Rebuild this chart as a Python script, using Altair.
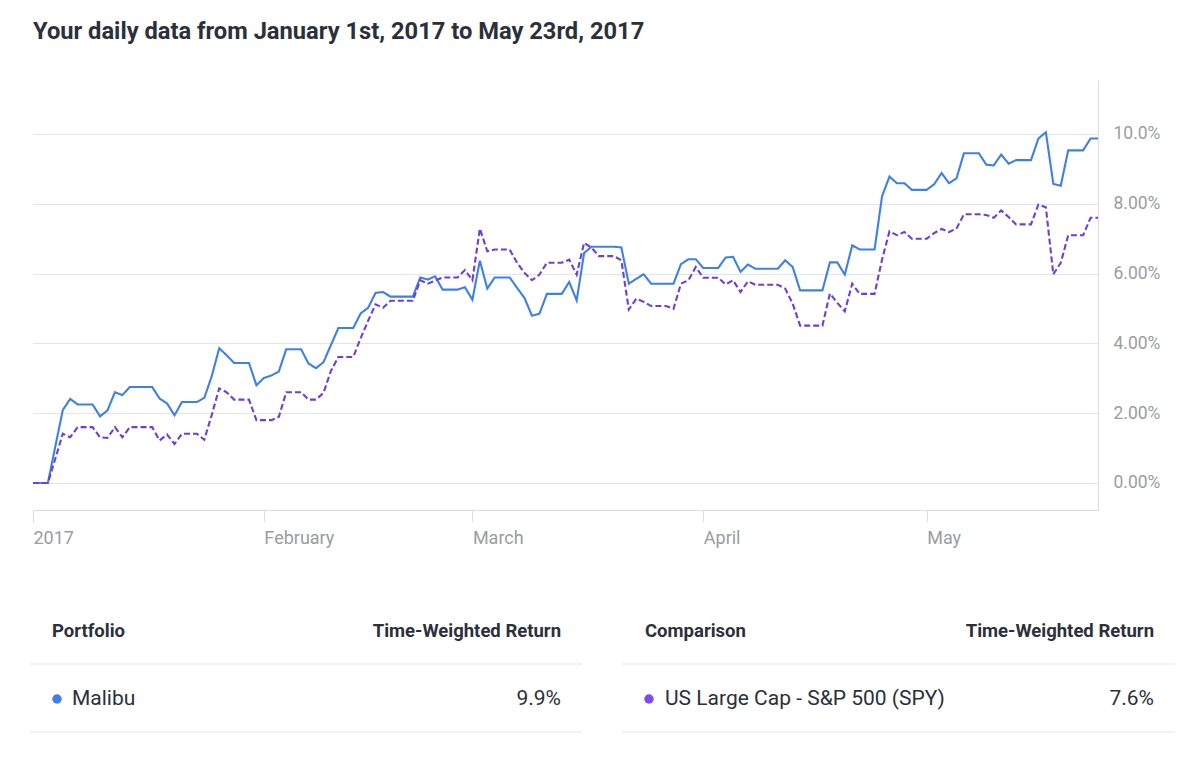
import altair as alt
import pandas as pd

# ---------------- data ----------------
title_text = "Your daily data from January 1st, 2017 to May 23rd, 2017"
series_names = ["Malibu", "US Large Cap - S&P 500 (SPY)"]
series_returns = ["9.9%", "7.6%"]
table_headers_left = ["Portfolio", "Time-Weighted Return"]
table_headers_right = ["Comparison", "Time-Weighted Return"]

dates = [d.strftime("%Y-%m-%d") for d in pd.date_range("2017-01-01", "2017-05-24", freq="D")]

malibu = [
    0, 0, 0, 1.05, 2.09, 2.41, 2.25, 2.25, 2.25, 1.91,
    2.08, 2.6, 2.52, 2.75, 2.75, 2.75, 2.75, 2.42, 2.28, 1.94,
    2.32, 2.32, 2.32, 2.44, 3.06, 3.86, 3.66, 3.44, 3.44, 3.44,
    2.8, 3.01, 3.08, 3.19, 3.83, 3.83, 3.83, 3.42, 3.29, 3.46,
    3.95, 4.44, 4.44, 4.44, 4.86, 5.02, 5.45, 5.47, 5.34, 5.34,
    5.34, 5.34, 5.89, 5.83, 5.92, 5.54, 5.54, 5.54, 5.61, 5.25,
    6.37, 5.57, 5.89, 5.89, 5.89, 5.59, 5.3, 4.79, 4.85, 5.42,
    5.42, 5.42, 5.76, 5.23, 6.59, 6.77, 6.77, 6.77, 6.77, 6.75,
    5.71, 5.85, 5.98, 5.71, 5.71, 5.71, 5.71, 6.27, 6.41, 6.41,
    6.16, 6.16, 6.16, 6.46, 6.48, 6.05, 6.26, 6.14, 6.14, 6.14,
    6.14, 6.38, 6.19, 5.52, 5.52, 5.52, 5.52, 6.32, 6.32, 5.97,
    6.81, 6.69, 6.69, 6.69, 8.21, 8.78, 8.59, 8.59, 8.4, 8.4,
    8.4, 8.56, 8.88, 8.59, 8.73, 9.45, 9.45, 9.45, 9.12, 9.1,
    9.41, 9.15, 9.25, 9.25, 9.25, 9.87, 10.05, 8.57, 8.52, 9.53,
    9.53, 9.53, 9.87, 9.87,
]

spy = [
    0, 0, 0, 0.7, 1.41, 1.31, 1.6, 1.6, 1.6, 1.31,
    1.29, 1.6, 1.31, 1.6, 1.6, 1.6, 1.6, 1.22, 1.39, 1.12,
    1.41, 1.41, 1.41, 1.24, 1.95, 2.71, 2.6, 2.39, 2.39, 2.39,
    1.8, 1.8, 1.8, 1.89, 2.6, 2.6, 2.6, 2.39, 2.39, 2.58,
    3.21, 3.61, 3.61, 3.61, 4.15, 4.65, 5.12, 5.02, 5.22, 5.22,
    5.22, 5.22, 5.81, 5.71, 5.8, 5.89, 5.89, 5.89, 6.1, 5.81,
    7.29, 6.64, 6.69, 6.69, 6.69, 6.31, 6.02, 5.81, 5.97, 6.31,
    6.31, 6.31, 6.4, 5.97, 6.88, 6.74, 6.5, 6.5, 6.5, 6.38,
    4.97, 5.28, 5.19, 5.07, 5.07, 5.07, 4.99, 5.71, 5.81, 6.19,
    5.88, 5.88, 5.88, 5.69, 5.81, 5.47, 5.78, 5.68, 5.68, 5.68,
    5.68, 5.57, 5.14, 4.51, 4.51, 4.51, 4.51, 5.43, 5.16, 4.92,
    5.71, 5.42, 5.42, 5.42, 6.4, 7.21, 7.1, 7.19, 7.0, 7.0,
    7.0, 7.16, 7.28, 7.19, 7.29, 7.7, 7.7, 7.7, 7.68, 7.6,
    7.81, 7.62, 7.41, 7.41, 7.41, 7.98, 7.9, 5.98, 6.31, 7.1,
    7.1, 7.1, 7.6, 7.6,
]

# ---------------- styles ----------------
BLUE = "#3d80ea"
PURPLE = "#6a3fe0"
DOT_PURPLE = "#7a4cf2"
GRID = "#e1e5eb"
AXIS_TXT = "#9a9da3"
DARK = "#2b303a"
SEP = "#eceef2"
FONT = "Roboto"

W, H = 1065, 430

df = pd.DataFrame({
    "date": dates * 2,
    "value": malibu + spy,
    "series": [series_names[0]] * len(dates) + [series_names[1]] * len(dates),
})

one = pd.DataFrame({"k": [0]})

month_ticks = [alt.DateTime(year=2017, month=m, date=1, utc=True) for m in range(1, 6)]

lines = alt.Chart(df).mark_line(strokeWidth=2.1).encode(
    x=alt.X(
        "date:T",
        title=None,
        scale=alt.Scale(
            type="utc",
            domain=[alt.DateTime(year=2017, month=1, date=1, utc=True),
                    alt.DateTime(year=2017, month=5, date=24, utc=True)],
            nice=False,
        ),
        axis=alt.Axis(
            values=month_ticks,
            labelExpr="utcmonth(datum.value)==0 ? utcFormat(datum.value,'%Y') : utcFormat(datum.value,'%B')",
            grid=False,
            domainColor="#d9dee6",
            tickColor="#d9dee6",
            tickSize=12,
            labelAlign="left",
            labelBaseline="top",
            labelPadding=7,
            labelColor=AXIS_TXT,
            labelFontSize=18,
            labelFont=FONT,
        ),
    ),
    y=alt.Y(
        "value:Q",
        title=None,
        scale=alt.Scale(domain=[-0.774, 11.547], nice=False, zero=False),
        axis=alt.Axis(
            orient="right",
            values=[0, 2, 4, 6, 8, 10],
            labelExpr="datum.value >= 10 ? format(datum.value, '.1f') + '%' : format(datum.value, '.2f') + '%'",
            ticks=False,
            labelPadding=15,
            domainColor="#d9dee6",
            gridColor=GRID,
            labelColor=AXIS_TXT,
            labelFontSize=17.5,
            labelFont=FONT,
            labelAlign="left",
        ),
    ),
    color=alt.Color("series:N", scale=alt.Scale(domain=series_names, range=[BLUE, PURPLE]), legend=None),
    strokeDash=alt.StrokeDash("series:N", scale=alt.Scale(domain=series_names, range=[[1, 0], [6, 3]]), legend=None),
    order=alt.Order("date:T"),
)

def text_layer(txt, x, y, size, weight="normal", align="left", color=DARK):
    return alt.Chart(one).mark_text(
        text=txt, align=align, baseline="middle", fontSize=size,
        fontWeight=weight, font=FONT, color=color,
    ).encode(x=alt.value(x), y=alt.value(y))

def hline(x1, x2, y):
    return alt.Chart(one).mark_rule(color=SEP, strokeWidth=1.5).encode(
        x=alt.value(x1), x2=alt.value(x2), y=alt.value(y)
    )

def dot(x, y, c):
    return alt.Chart(one).mark_circle(size=90, opacity=1, color=c).encode(
        x=alt.value(x), y=alt.value(y)
    )

layers = [
    lines,
    text_layer(title_text, 0, -48, 23.7, "bold"),
    # left table
    text_layer(table_headers_left[0], 19, 551, 18.5, "bold"),
    text_layer(table_headers_left[1], 528, 551, 18.5, "bold", "right"),
    hline(-3, 549, 584),
    dot(24, 619, BLUE),
    text_layer(series_names[0], 39, 619, 21),
    text_layer(series_returns[0], 528, 619, 21, align="right"),
    hline(-3, 549, 652),
    # right table
    text_layer(table_headers_right[0], 612, 551, 18.5, "bold"),
    text_layer(table_headers_right[1], 1121, 551, 18.5, "bold", "right"),
    hline(589, 1142, 584),
    dot(616, 619, DOT_PURPLE),
    text_layer(series_names[1], 632, 619, 21),
    text_layer(series_returns[1], 1121, 619, 21, align="right"),
    hline(589, 1142, 652),
]

chart = alt.layer(*layers).properties(
    width=W,
    height=H,
    autosize=alt.AutoSizeParams(type="none"),
    padding={"left": 25, "top": 72, "right": 94, "bottom": 240},
).configure(
    background="white",
    view=alt.ViewConfig(stroke="transparent"),
)

chart.save("out.html", embed_options={"renderer": "svg", "actions": False})
